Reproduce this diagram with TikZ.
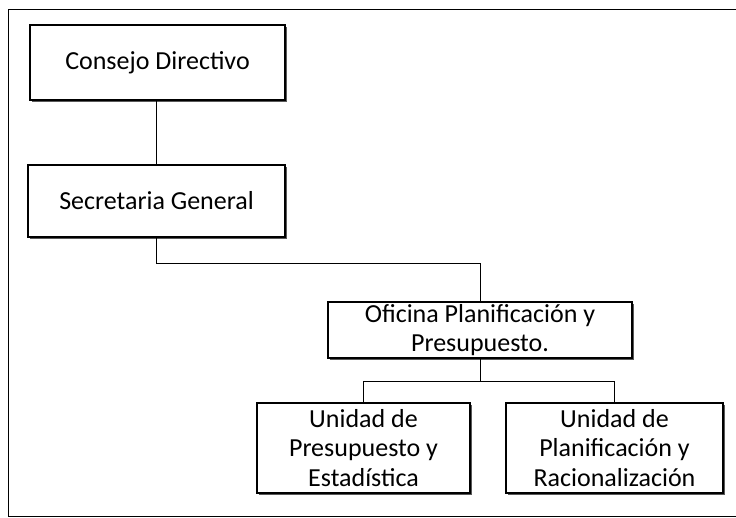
\documentclass[tikz,border=0pt]{standalone}
\usepackage{fontspec}
\setmainfont{Carlito}
\usetikzlibrary{shadows}
\tikzset{
    unit/.style = {draw, line width=1.3pt, fill=white, align=center,
        inner sep=0pt, font=\fontsize{26}{29.5}\selectfont,
        drop shadow={shadow xshift=2pt, shadow yshift=-2pt, fill=black!65, opacity=1}},
    link/.style = {line width=1pt}
}
\begin{document}
\begin{tikzpicture}[x = 1pt, y = -1pt]
        \useasboundingbox (0, 0) rectangle (736, 518);
        % outer frame
        \draw[line width=1pt] (736, 10) -- (8, 10) -- (8, 516) -- (736, 516);
        % boxes
        \node[unit, minimum width=255pt, minimum height=75pt] (cd) at (157.5, 62.5) {Consejo Directivo};
        \node[unit, minimum width=257pt, minimum height=72pt] (sg) at (156.5, 201) {Secretaria General};
        \node[unit, minimum width=304pt, minimum height=56pt] (op) at (480, 330) {Oficina Planificación y\\Presupuesto.};
        \node[unit, minimum width=213pt, minimum height=90pt] (up) at (363.5, 448) {Unidad de\\Presupuesto y\\Estadística};
        \node[unit, minimum width=217pt, minimum height=90pt] (ur) at (614.5, 448) {Unidad de\\Planificación y\\Racionalización};
        % connectors
        \draw[link] (cd.south) -- (sg.south |- cd.south) -- (sg.north);
        \draw[link] (sg.south) -- ++(0, 26) coordinate (sgturn) -| (op.north);
        \draw[link] (op.south) -- ++(0, 23) coordinate (opturn);
        \foreach \u in {up, ur}{
            \draw[link] (opturn) -| (\u.north);
        }
    \end{tikzpicture}
\end{document}
